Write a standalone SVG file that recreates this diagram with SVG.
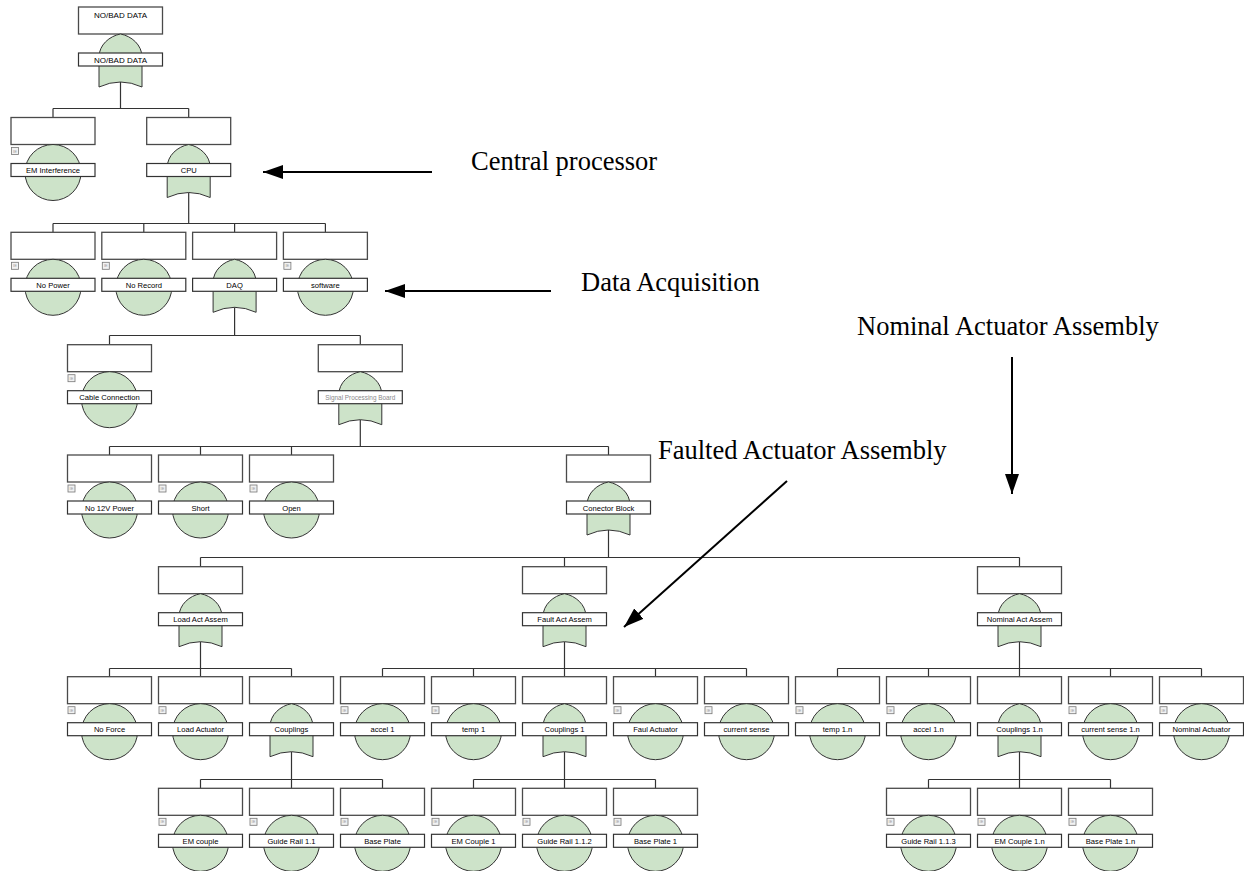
<svg xmlns="http://www.w3.org/2000/svg" xmlns:xlink="http://www.w3.org/1999/xlink" width="1244" height="871" viewBox="0 0 1244 871">
  <style>
    .box { fill: #ffffff; stroke: #4a4a4a; stroke-width: 1.3; }
    .lbl { fill: #ffffff; stroke: #333333; stroke-width: 1.2; }
    .shape { fill: #cde3c9; stroke: #333333; stroke-width: 1; }
    .ie { fill: #f2f2f2; stroke: #777777; stroke-width: 0.8; }
    .iet { font-family: "Liberation Sans", Arial, sans-serif; font-size: 4px; fill: #999999; text-anchor: middle; }
    .t { font-family: "Liberation Sans", Arial, sans-serif; font-size: 7.6px; fill: #000000; text-anchor: middle; }
    .ts { font-family: "Liberation Sans", Arial, sans-serif; font-size: 6.4px; fill: #8a8a8a; text-anchor: middle; }
    .wire { stroke: #333333; stroke-width: 1.2; fill: none; }
    .note { font-family: "Liberation Serif", "Times New Roman", serif; font-size: 26.5px; fill: #000000; }
    .pointer { stroke: #000000; stroke-width: 2; fill: none; }
  </style>
  <defs>
    <marker id="head" viewBox="0 0 20 14" refX="20" refY="7" markerWidth="20" markerHeight="14" markerUnits="userSpaceOnUse" orient="auto">
      <path d="M0,0 L20,7 L0,14 Z" fill="#000000"/>
    </marker>
    <!-- basic event: description box, IE tag, circle, label bar -->
    <g id="evt">
      <rect class="box" x="-42" y="0" width="84" height="27"/>
      <rect class="ie" x="-41.5" y="30" width="7" height="7"/>
      <text class="iet" x="-38" y="35">IE</text>
      <circle class="shape" cx="0" cy="55" r="28"/>
      <rect class="lbl" x="-42" y="46" width="84" height="13"/>
    </g>
    <!-- OR gate: description box, gate body, label bar -->
    <g id="gate">
      <rect class="box" x="-42" y="0" width="84" height="27"/>
      <path class="shape" d="M-21.5,80 L-21.5,50 C-21.5,38 -11,29 0,27 C11,29 21.5,38 21.5,50 L21.5,80 Q0,70 -21.5,80 Z"/>
      <rect class="lbl" x="-42" y="46" width="84" height="13"/>
    </g>
  </defs>

  <rect x="0" y="0" width="1244" height="871" fill="#ffffff"/>

  <!-- tree wiring -->
  <g id="connectors">
    <path class="wire" d="M120.5,82 V108.5 M53,108.5 H188.7 M53,108.5 V117.5 M188.7,108.5 V117.5"/>
    <path class="wire" d="M188.7,192.5 V223.5 M53,223.5 H325.4 M53,223.5 V232.3 M143.8,223.5 V232.3 M234.6,223.5 V232.3 M325.4,223.5 V232.3"/>
    <path class="wire" d="M234.6,307.3 V335.5 M109.5,335.5 H360.3 M109.5,335.5 V344.7 M360.3,335.5 V344.7"/>
    <path class="wire" d="M360.3,419.7 V446.5 M109.5,446.5 H608.5 M109.5,446.5 V455 M200.5,446.5 V455 M291.5,446.5 V455 M608.5,446.5 V455"/>
    <path class="wire" d="M608.5,530 V557.5 M200.5,557.5 H1019.5 M200.5,557.5 V566.7 M564.5,557.5 V566.7 M1019.5,557.5 V566.7"/>
    <path class="wire" d="M200.5,641.7 V668.5 M109.5,668.5 H291.5 M109.5,668.5 V676.7 M200.5,668.5 V676.7 M291.5,668.5 V676.7"/>
    <path class="wire" d="M564.5,641.7 V668.5 M382.5,668.5 H746.5 M382.5,668.5 V676.7 M473.5,668.5 V676.7 M564.5,668.5 V676.7 M655.5,668.5 V676.7 M746.5,668.5 V676.7"/>
    <path class="wire" d="M1019.5,641.7 V668.5 M837.5,668.5 H1201.5 M837.5,668.5 V676.7 M928.5,668.5 V676.7 M1019.5,668.5 V676.7 M1110.5,668.5 V676.7 M1201.5,668.5 V676.7"/>
    <path class="wire" d="M291.5,751.7 V779.5 M200.5,779.5 H382.5 M200.5,779.5 V788.3 M291.5,779.5 V788.3 M382.5,779.5 V788.3"/>
    <path class="wire" d="M564.5,751.7 V779.5 M473.5,779.5 H655.5 M473.5,779.5 V788.3 M564.5,779.5 V788.3 M655.5,779.5 V788.3"/>
    <path class="wire" d="M1019.5,751.7 V779.5 M928.5,779.5 H1110.5 M928.5,779.5 V788.3 M1019.5,779.5 V788.3 M1110.5,779.5 V788.3"/>
  </g>

  <!-- top event -->
  <g id="n-top" transform="translate(120.5,7)">
    <use href="#gate" xlink:href="#gate"/>
    <text class="t" x="0" y="10.5" style="font-size:8px">NO/BAD DATA</text>
    <text class="t" x="0" y="55.5" style="font-size:8px">NO/BAD DATA</text>
  </g>

  <!-- level 1 -->
  <g id="n-em-interference" transform="translate(53,117.5)"><use href="#evt" xlink:href="#evt"/><text class="t" x="0" y="55.5">EM Interference</text></g>
  <g id="n-cpu" transform="translate(188.7,117.5)"><use href="#gate" xlink:href="#gate"/><text class="t" x="0" y="55.5">CPU</text></g>

  <!-- level 2 -->
  <g id="n-no-power" transform="translate(53,232.3)"><use href="#evt" xlink:href="#evt"/><text class="t" x="0" y="55.5">No Power</text></g>
  <g id="n-no-record" transform="translate(143.8,232.3)"><use href="#evt" xlink:href="#evt"/><text class="t" x="0" y="55.5">No Record</text></g>
  <g id="n-daq" transform="translate(234.6,232.3)"><use href="#gate" xlink:href="#gate"/><text class="t" x="0" y="55.5">DAQ</text></g>
  <g id="n-software" transform="translate(325.4,232.3)"><use href="#evt" xlink:href="#evt"/><text class="t" x="0" y="55.5">software</text></g>

  <!-- level 3 -->
  <g id="n-cable" transform="translate(109.5,344.7)"><use href="#evt" xlink:href="#evt"/><text class="t" x="0" y="55.5">Cable Connection</text></g>
  <g id="n-spb" transform="translate(360.3,344.7)"><use href="#gate" xlink:href="#gate"/><text class="ts" x="0" y="55">Signal Processing Board</text></g>

  <!-- level 4 -->
  <g id="n-no12v" transform="translate(109.5,455)"><use href="#evt" xlink:href="#evt"/><text class="t" x="0" y="55.5">No 12V Power</text></g>
  <g id="n-short" transform="translate(200.5,455)"><use href="#evt" xlink:href="#evt"/><text class="t" x="0" y="55.5">Short</text></g>
  <g id="n-open" transform="translate(291.5,455)"><use href="#evt" xlink:href="#evt"/><text class="t" x="0" y="55.5">Open</text></g>
  <g id="n-conector" transform="translate(608.5,455)"><use href="#gate" xlink:href="#gate"/><text class="t" x="0" y="55.5">Conector Block</text></g>

  <!-- level 5 -->
  <g id="n-load-act" transform="translate(200.5,566.7)"><use href="#gate" xlink:href="#gate"/><text class="t" x="0" y="55.5">Load Act Assem</text></g>
  <g id="n-fault-act" transform="translate(564.5,566.7)"><use href="#gate" xlink:href="#gate"/><text class="t" x="0" y="55.5">Fault Act Assem</text></g>
  <g id="n-nominal-act" transform="translate(1019.5,566.7)"><use href="#gate" xlink:href="#gate"/><text class="t" x="0" y="55.5">Nominal Act Assem</text></g>

  <!-- level 6 -->
  <g id="n-no-force" transform="translate(109.5,676.7)"><use href="#evt" xlink:href="#evt"/><text class="t" x="0" y="55.5">No Force</text></g>
  <g id="n-load-actuator" transform="translate(200.5,676.7)"><use href="#evt" xlink:href="#evt"/><text class="t" x="0" y="55.5">Load Actuator</text></g>
  <g id="n-couplings" transform="translate(291.5,676.7)"><use href="#gate" xlink:href="#gate"/><text class="t" x="0" y="55.5">Couplings</text></g>
  <g id="n-accel1" transform="translate(382.5,676.7)"><use href="#evt" xlink:href="#evt"/><text class="t" x="0" y="55.5">accel 1</text></g>
  <g id="n-temp1" transform="translate(473.5,676.7)"><use href="#evt" xlink:href="#evt"/><text class="t" x="0" y="55.5">temp 1</text></g>
  <g id="n-couplings1" transform="translate(564.5,676.7)"><use href="#gate" xlink:href="#gate"/><text class="t" x="0" y="55.5">Couplings 1</text></g>
  <g id="n-faul-actuator" transform="translate(655.5,676.7)"><use href="#evt" xlink:href="#evt"/><text class="t" x="0" y="55.5">Faul Actuator</text></g>
  <g id="n-current-sense" transform="translate(746.5,676.7)"><use href="#evt" xlink:href="#evt"/><text class="t" x="0" y="55.5">current sense</text></g>
  <g id="n-temp1n" transform="translate(837.5,676.7)"><use href="#evt" xlink:href="#evt"/><text class="t" x="0" y="55.5">temp 1.n</text></g>
  <g id="n-accel1n" transform="translate(928.5,676.7)"><use href="#evt" xlink:href="#evt"/><text class="t" x="0" y="55.5">accel 1.n</text></g>
  <g id="n-couplings1n" transform="translate(1019.5,676.7)"><use href="#gate" xlink:href="#gate"/><text class="t" x="0" y="55.5">Couplings 1.n</text></g>
  <g id="n-current-sense1n" transform="translate(1110.5,676.7)"><use href="#evt" xlink:href="#evt"/><text class="t" x="0" y="55.5">current sense 1.n</text></g>
  <g id="n-nominal-actuator" transform="translate(1201.5,676.7)"><use href="#evt" xlink:href="#evt"/><text class="t" x="0" y="55.5">Nominal Actuator</text></g>

  <!-- level 7 -->
  <g id="n-em-couple" transform="translate(200.5,788.3)"><use href="#evt" xlink:href="#evt"/><text class="t" x="0" y="55.5">EM couple</text></g>
  <g id="n-guide-rail-11" transform="translate(291.5,788.3)"><use href="#evt" xlink:href="#evt"/><text class="t" x="0" y="55.5">Guide Rail 1.1</text></g>
  <g id="n-base-plate" transform="translate(382.5,788.3)"><use href="#evt" xlink:href="#evt"/><text class="t" x="0" y="55.5">Base Plate</text></g>
  <g id="n-em-couple1" transform="translate(473.5,788.3)"><use href="#evt" xlink:href="#evt"/><text class="t" x="0" y="55.5">EM Couple 1</text></g>
  <g id="n-guide-rail-112" transform="translate(564.5,788.3)"><use href="#evt" xlink:href="#evt"/><text class="t" x="0" y="55.5">Guide Rail 1.1.2</text></g>
  <g id="n-base-plate1" transform="translate(655.5,788.3)"><use href="#evt" xlink:href="#evt"/><text class="t" x="0" y="55.5">Base Plate 1</text></g>
  <g id="n-guide-rail-113" transform="translate(928.5,788.3)"><use href="#evt" xlink:href="#evt"/><text class="t" x="0" y="55.5">Guide Rail 1.1.3</text></g>
  <g id="n-em-couple1n" transform="translate(1019.5,788.3)"><use href="#evt" xlink:href="#evt"/><text class="t" x="0" y="55.5">EM Couple 1.n</text></g>
  <g id="n-base-plate1n" transform="translate(1110.5,788.3)"><use href="#evt" xlink:href="#evt"/><text class="t" x="0" y="55.5">Base Plate 1.n</text></g>

  <!-- callouts -->
  <g id="callouts">
    <text class="note" x="471" y="170">Central processor</text>
    <line class="pointer" x1="432" y1="172" x2="263" y2="172" marker-end="url(#head)"/>
    <text class="note" x="581" y="291">Data Acquisition</text>
    <line class="pointer" x1="551" y1="291" x2="385" y2="291" marker-end="url(#head)"/>
    <text class="note" x="857" y="335">Nominal Actuator Assembly</text>
    <line class="pointer" x1="1012" y1="357" x2="1012" y2="494" marker-end="url(#head)"/>
    <text class="note" x="658" y="459">Faulted Actuator Assembly</text>
    <line class="pointer" x1="787" y1="481" x2="624" y2="627" marker-end="url(#head)"/>
  </g>
</svg>
